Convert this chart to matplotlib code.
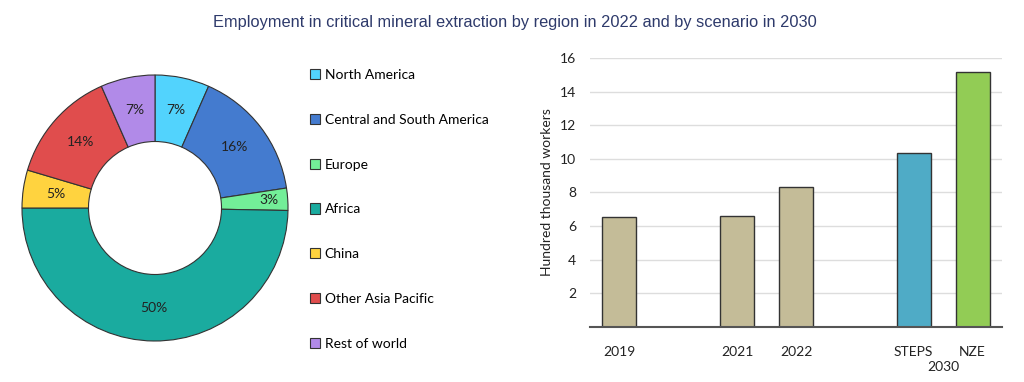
import numpy as np
import matplotlib
matplotlib.use('Agg')
import matplotlib.pyplot as plt
from matplotlib.patches import Patch

# 1. data
regions = ['North America', 'Central and South America', 'Europe', 'Africa',
           'China', 'Other Asia Pacific', 'Rest of world']
shares = [6.6, 16.0, 2.7, 49.7, 4.6, 13.8, 6.6]
share_labels = ['7%', '16%', '3%', '50%', '5%', '14%', '7%']
region_colors = ['#52D3FD', '#447BCF', '#73EE98', '#1AAB9F', '#FFD33F', '#E04D4D', '#B18AE8']

bar_labels = ['2019', '2021', '2022', 'STEPS', 'NZE']
bar_pos = [0, 2, 3, 5, 6]
workers = [6.52, 6.60, 8.35, 10.35, 15.15]
bar_colors = ['#C4BC98', '#C4BC98', '#C4BC98', '#4FABC6', '#92CC55']

plt.rcParams['font.family'] = ['Lato', 'DejaVu Sans']
W, H = 1024, 382
fig = plt.figure(figsize=(W / 100, H / 100), dpi=100)

fig.text(515 / W, 1 - 22 / H, 'Employment in critical mineral extraction by region in 2022 and by scenario in 2030',
         ha='center', va='center', fontsize=11.8, color='#2E3A6B', family=['Liberation Sans', 'DejaVu Sans'])

# 2. donut
cx, cy, r = 155, 208, 135
ax1 = fig.add_axes([(cx - r) / W, (H - cy - r) / H, 2 * r / W, 2 * r / H])
wedges, _ = ax1.pie(shares, colors=region_colors, startangle=90, counterclock=False,
                    radius=133 / 135, wedgeprops=dict(width=0.5 * 133 / 135, edgecolor='#333333', linewidth=0.8))
for w, lab in zip(wedges, share_labels):
    ang = np.deg2rad((w.theta1 + w.theta2) / 2)
    d = 0.75 * 133 / 135
    if lab == '3%':
        d = 0.86 * 133 / 135
    ax1.text(d * np.cos(ang), d * np.sin(ang), lab, ha='center', va='center', fontsize=10, color='#222222')
ax1.set_xlim(-1, 1)
ax1.set_ylim(-1, 1)
ax1.set_aspect('equal')
ax1.axis('off')

handles = [Patch(facecolor=c, edgecolor='#333333', linewidth=0.8) for c in region_colors]
fig.legend(handles, regions, loc='upper left', bbox_to_anchor=(310 / W, 1 - 69 / H),
           frameon=False, fontsize=10, handlelength=0.75, handleheight=0.75, handletextpad=0.3,
           labelspacing=2.36, borderpad=0, borderaxespad=0)

# 3. bars
ax2 = fig.add_axes([590 / W, (H - 327) / H, 412 / W, 269 / H])
ax2.bar(bar_pos, workers, width=0.58, color=bar_colors, edgecolor='#333333', linewidth=1.0, zorder=3)
ax2.set_xlim(-0.5, 6.5)
ax2.set_ylim(0, 16)
ax2.set_yticks(range(2, 17, 2))
ax2.set_xticks(bar_pos)
ax2.set_xticklabels(bar_labels, fontsize=10)
ax2.tick_params(axis='both', length=0, labelsize=10, colors='#222222')
ax2.tick_params(axis='x', pad=14)
ax2.tick_params(axis='y', pad=10)
ax2.grid(axis='y', color='#DDDDDD', linewidth=1, zorder=0)
for s in ['top', 'right', 'left']:
    ax2.spines[s].set_visible(False)
ax2.spines['bottom'].set_color('#555555')
ax2.spines['bottom'].set_linewidth(1.5)
ax2.spines['bottom'].set_zorder(4)
ax2.set_ylabel('Hundred thousand workers', fontsize=10, color='#222222', labelpad=5)
ax2.text(5.5, -2.4, '2030', ha='center', va='center', fontsize=10, color='#222222')

fig.savefig('out.png', dpi=100)
